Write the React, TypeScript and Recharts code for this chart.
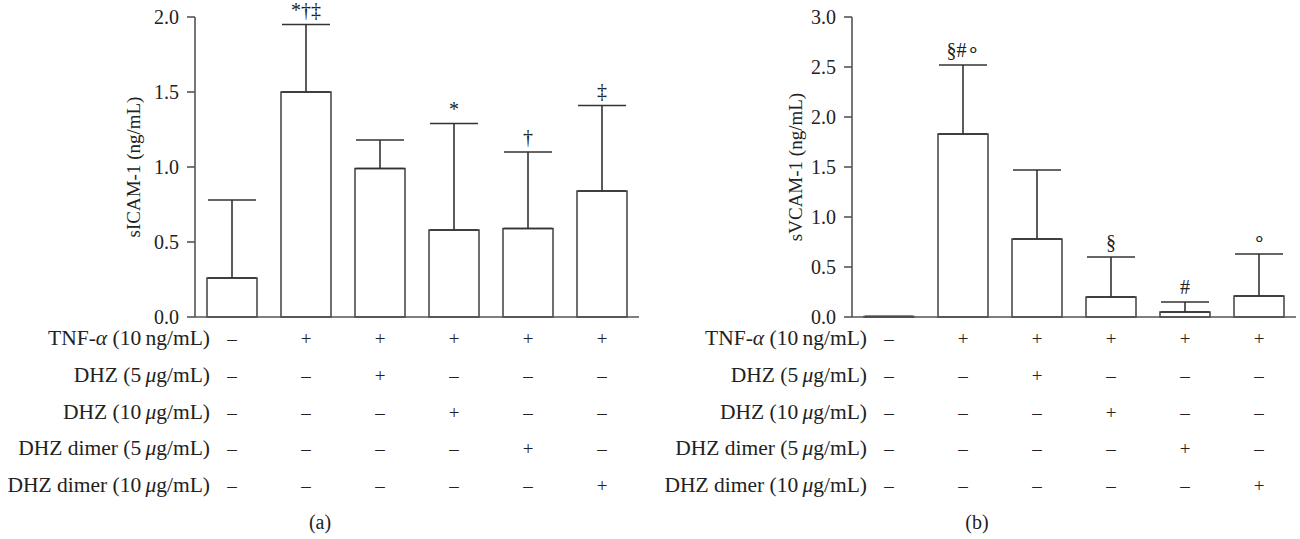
import { ComposedChart, Bar, Line, XAxis, YAxis, ErrorBar, LabelList, Label } from 'recharts';

const groups = ['1', '2', '3', '4', '5', '6'];

// panel (a)
const sicamMean = [0.26, 1.5, 0.99, 0.58, 0.59, 0.84];
const sicamSd = [0.52, 0.45, 0.19, 0.71, 0.51, 0.57];
const sicamMarks = ['', '*†‡', '', '*', '†', '‡'];
const sicamTicks = [0, 0.5, 1, 1.5, 2];

// panel (b)
const svcamMean = [0.005, 1.83, 0.78, 0.2, 0.05, 0.21];
const svcamSd = [0, 0.69, 0.69, 0.4, 0.1, 0.42];
const svcamMarks = ['', '§#∘', '', '§', '#', '∘'];
const svcamTicks = [0, 0.5, 1, 1.5, 2, 2.5, 3];

// treatment table under the bars
const rowLabels = [
  'TNF-α (10\u2009ng/mL)',
  'DHZ (5\u2009μg/mL)',
  'DHZ (10\u2009μg/mL)',
  'DHZ dimer (5\u2009μg/mL)',
  'DHZ dimer (10\u2009μg/mL)',
];
const tnfRow = ['–', '+', '+', '+', '+', '+'];
const dhz5Row = ['–', '–', '+', '–', '–', '–'];
const dhz10Row = ['–', '–', '–', '+', '–', '–'];
const dimer5Row = ['–', '–', '–', '–', '+', '–'];
const dimer10Row = ['–', '–', '–', '–', '–', '+'];
const tableRows = [tnfRow, dhz5Row, dhz10Row, dimer5Row, dimer10Row];

const FONT = '"Liberation Serif", "Times New Roman", serif';
const AXIS = '#555';
const INK = '#222';

const buildData = (mean: number[], sd: number[], marks: string[]) =>
  groups.map((g, i) => ({
    group: g,
    mean: mean[i],
    err: [0, sd[i]],
    top: mean[i] + sd[i],
    mark: marks[i],
  }));

// splits greek letters out so they can be set in italics
function RichLabel({ text }: { text: string }) {
  const parts = text.split(/([αμ])/);
  return (
    <>
      {parts.map((p, k) =>
        p === 'α' || p === 'μ' ? (
          <tspan key={k} fontStyle="italic">{p}</tspan>
        ) : (
          <tspan key={k}>{p}</tspan>
        )
      )}
    </>
  );
}

const TableTick = (props: any) => {
  const { x, y, payload } = props;
  const i = payload.index;
  return (
    <g>
      {tableRows.map((row, r) => (
        <text
          key={r}
          x={x}
          y={y + 28 + r * 36.75}
          textAnchor="middle"
          fontSize={19}
          fill={INK}
          style={{ fontFamily: FONT }}
        >
          {row[i]}
        </text>
      ))}
      {i === 0 &&
        rowLabels.map((l, r) => (
          <text
            key={'l' + r}
            x={x - 22}
            y={y + 28 + r * 36.75}
            textAnchor="end"
            fontSize={21.5}
            fill={INK}
            style={{ fontFamily: FONT }}
          >
            <RichLabel text={l} />
          </text>
        ))}
    </g>
  );
};

const YTitle = ({ viewBox, value, inset }: any) => {
  const cx = viewBox.x + viewBox.width - inset;
  const cy = viewBox.y + viewBox.height / 2;
  return (
    <text
      x={cx}
      y={cy}
      transform={`rotate(-90, ${cx}, ${cy})`}
      textAnchor="middle"
      dominantBaseline="central"
      fontSize={19}
      fill={INK}
      style={{ fontFamily: FONT }}
    >
      {value}
    </text>
  );
};

const Caption = ({ viewBox, value }: any) => (
  <text
    x={viewBox.x + 125}
    y={viewBox.y + 212}
    textAnchor="middle"
    fontSize={20}
    fill={INK}
    style={{ fontFamily: FONT }}
  >
    {value}
  </text>
);

interface PanelProps {
  data: any[];
  ticks: number[];
  max: number;
  width: number;
  marginRight: number;
  yTitle: string;
  titleInset: number;
  caption: string;
}

function Panel({ data, ticks, max, width, marginRight, yTitle, titleInset, caption }: PanelProps) {
  return (
    <ComposedChart width={width} height={539} data={data} margin={{ top: 17, right: marginRight, bottom: 0, left: 0 }}>
      <XAxis
        dataKey="group"
        height={222}
        interval={0}
        tickLine={false}
        tickSize={0}
        tickMargin={0}
        axisLine={{ stroke: AXIS, strokeWidth: 1.6 }}
        tick={<TableTick />}
      >
        <Label content={<Caption value={caption} />} />
      </XAxis>
      <YAxis
        width={195}
        domain={[0, max]}
        ticks={ticks}
        tickFormatter={(v: number) => v.toFixed(1)}
        tickSize={8}
        tickMargin={8}
        axisLine={{ stroke: AXIS, strokeWidth: 1.6 }}
        tickLine={{ stroke: AXIS, strokeWidth: 1.6 }}
        tick={{ fontSize: 20, fill: INK, style: { fontFamily: FONT } }}
      >
        <Label content={<YTitle value={yTitle} inset={titleInset} />} />
      </YAxis>
      <Bar dataKey="mean" barSize={50} fill="#fff" stroke="#333" strokeWidth={1.4} isAnimationActive={false}>
        <ErrorBar dataKey="err" direction="y" width={24} stroke="#333" strokeWidth={1.6} />
      </Bar>
      <Line
        dataKey="top"
        stroke="none"
        dot={false}
        activeDot={false}
        legendType="none"
        isAnimationActive={false}
      >
        <LabelList
          dataKey="mark"
          position="top"
          offset={8}
          fontSize={20}
          fill={INK}
          style={{ fontFamily: FONT }}
        />
      </Line>
    </ComposedChart>
  );
}

export default function App() {
  const dataA = buildData(sicamMean, sicamSd, sicamMarks);
  const dataB = buildData(svcamMean, svcamSd, svcamMarks);
  return (
    <div style={{ position: 'absolute', left: 0, top: 0, width: 1300, height: 539, background: '#fff' }}>
      <div style={{ position: 'absolute', left: 0, top: 0 }}>
        <Panel
          data={dataA}
          ticks={sicamTicks}
          max={2}
          width={660}
          marginRight={21}
          yTitle="sICAM-1 (ng/mL)"
          titleInset={62}
          caption="(a)"
        />
      </div>
      <div style={{ position: 'absolute', left: 657, top: 0 }}>
        <Panel
          data={dataB}
          ticks={svcamTicks}
          max={3}
          width={643}
          marginRight={4}
          yTitle="sVCAM-1 (ng/mL)"
          titleInset={57}
          caption="(b)"
        />
      </div>
    </div>
  );
}
